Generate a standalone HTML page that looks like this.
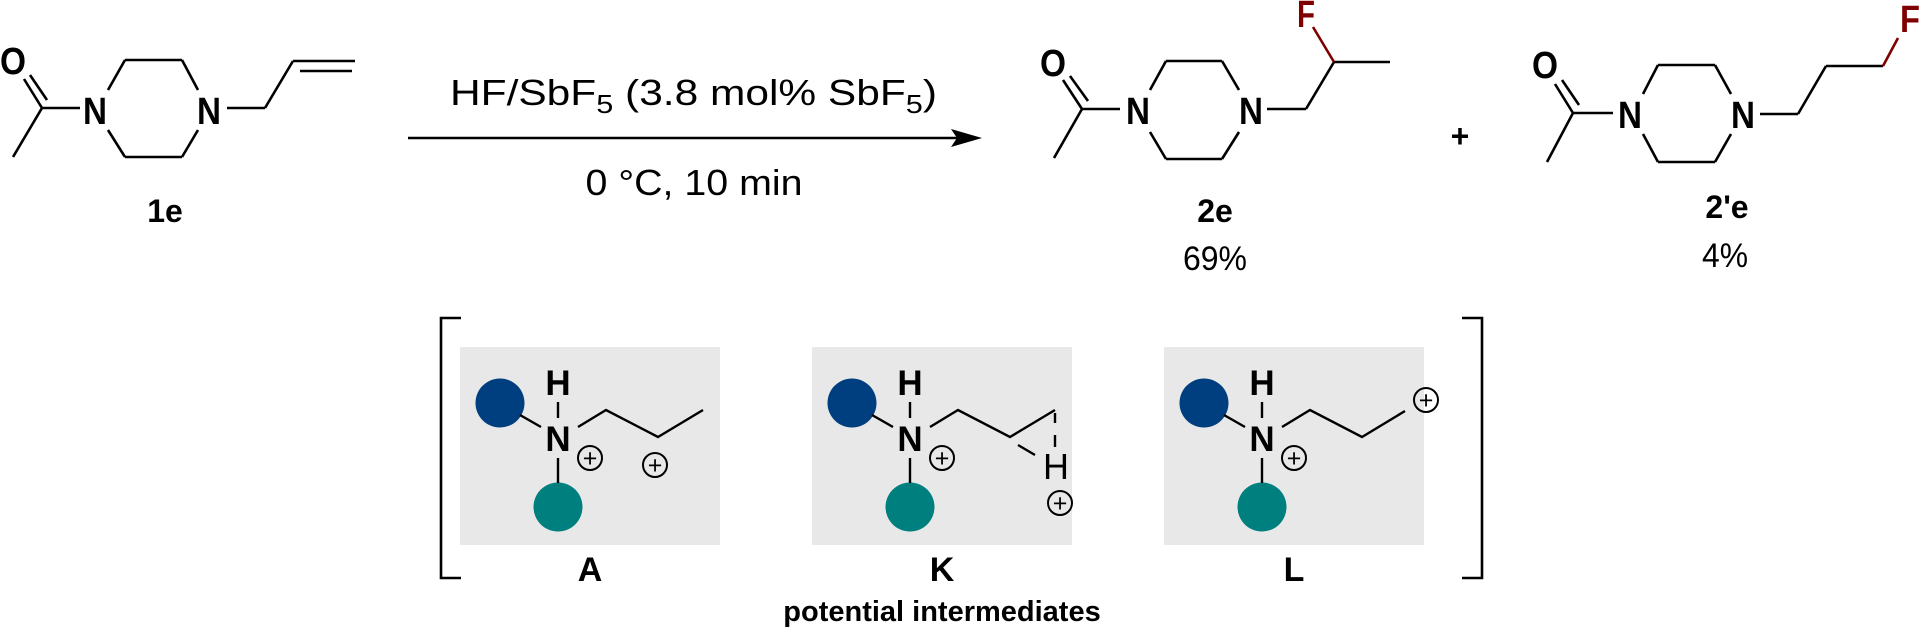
<!DOCTYPE html>
<html><head><meta charset="utf-8"><style>html,body{margin:0;padding:0;background:#fff;}svg{display:block}</style></head>
<body>
<svg width="1920" height="632" viewBox="0 0 1920 632" xmlns="http://www.w3.org/2000/svg" font-family="Liberation Sans, Arial, sans-serif">
<g stroke="#000" stroke-width="2.6" fill="none" stroke-linecap="butt">
<!-- 1e -->
<line x1="42" y1="108" x2="13" y2="157"/>
<line x1="42" y1="108" x2="80" y2="108"/>
<line x1="42" y1="108" x2="24" y2="79"/>
<line x1="47" y1="100" x2="30" y2="75"/>
<line x1="108" y1="90" x2="125" y2="60"/><line x1="125" y1="60" x2="182" y2="60"/><line x1="182" y1="60" x2="198" y2="90"/>
<line x1="108" y1="130" x2="125" y2="157"/><line x1="125" y1="157" x2="182" y2="157"/><line x1="182" y1="157" x2="198" y2="130"/>
<line x1="227" y1="108" x2="265" y2="108"/><line x1="265" y1="108" x2="293" y2="61"/><line x1="293" y1="61" x2="355" y2="61"/>
<line x1="300" y1="71" x2="352" y2="71"/>
<!-- arrow -->
<line x1="408" y1="138" x2="960" y2="138"/>
<!-- 2e -->
<line x1="1082" y1="109" x2="1054" y2="158"/>
<line x1="1082" y1="109" x2="1120" y2="109"/>
<line x1="1082" y1="109" x2="1063" y2="80"/>
<line x1="1088" y1="101" x2="1070" y2="76"/>
<line x1="1150" y1="90" x2="1166" y2="61"/><line x1="1166" y1="61" x2="1222" y2="61"/><line x1="1222" y1="61" x2="1239" y2="90"/>
<line x1="1150" y1="132" x2="1166" y2="159"/><line x1="1166" y1="159" x2="1222" y2="159"/><line x1="1222" y1="159" x2="1239" y2="132"/>
<line x1="1267" y1="109" x2="1306" y2="109"/><line x1="1306" y1="109" x2="1334" y2="62"/><line x1="1334" y1="62" x2="1390" y2="62"/>
<!-- 2'e -->
<line x1="1573" y1="113" x2="1547" y2="162"/>
<line x1="1573" y1="113" x2="1613" y2="113"/>
<line x1="1573" y1="113" x2="1555" y2="84"/>
<line x1="1579" y1="105" x2="1562" y2="80"/>
<line x1="1643" y1="94" x2="1658" y2="65"/><line x1="1658" y1="65" x2="1715" y2="65"/><line x1="1715" y1="65" x2="1731" y2="94"/>
<line x1="1643" y1="134" x2="1658" y2="162"/><line x1="1658" y1="162" x2="1715" y2="162"/><line x1="1715" y1="162" x2="1731" y2="134"/>
<line x1="1760" y1="114" x2="1798" y2="114"/><line x1="1798" y1="114" x2="1826" y2="66"/><line x1="1826" y1="66" x2="1883" y2="66"/>
<!-- brackets -->
<polyline points="461,318 441,318 441,578 461,578"/>
<polyline points="1462,318 1482,318 1482,578 1462,578"/>
</g>
<g stroke="#7f0000" stroke-width="2.6">
<line x1="1334" y1="62" x2="1313" y2="27"/>
<line x1="1883" y1="66" x2="1898" y2="38"/>
</g>
<polygon points="982,138 951,129 957,138 951,147" fill="#000"/>

<g font-weight="bold" font-size="38" text-anchor="middle" fill="#000">
<text x="13" y="74" textLength="26" lengthAdjust="spacingAndGlyphs">O</text>
<text x="95" y="124" textLength="24" lengthAdjust="spacingAndGlyphs">N</text>
<text x="209" y="124" textLength="24" lengthAdjust="spacingAndGlyphs">N</text>
<text x="1053" y="76" textLength="26" lengthAdjust="spacingAndGlyphs">O</text>
<text x="1138" y="124" textLength="24" lengthAdjust="spacingAndGlyphs">N</text>
<text x="1251" y="124" textLength="24" lengthAdjust="spacingAndGlyphs">N</text>
<text x="1545" y="78" textLength="26" lengthAdjust="spacingAndGlyphs">O</text>
<text x="1630" y="128" textLength="24" lengthAdjust="spacingAndGlyphs">N</text>
<text x="1743" y="128" textLength="24" lengthAdjust="spacingAndGlyphs">N</text>
<text x="1306" y="27" fill="#7f0000" textLength="18" lengthAdjust="spacingAndGlyphs">F</text>
<text x="1910" y="32" fill="#7f0000" textLength="20" lengthAdjust="spacingAndGlyphs">F</text>
</g>
<g font-size="32" text-anchor="middle" fill="#000">
<text x="165" y="222" font-weight="bold">1e</text>
<text x="1215" y="222" font-weight="bold">2e</text>
<text x="1215" y="270" font-size="34" textLength="64" lengthAdjust="spacingAndGlyphs">69%</text>
<text x="1727" y="218" font-weight="bold">2'e</text>
<text x="1725" y="267" font-size="34" textLength="46" lengthAdjust="spacingAndGlyphs">4%</text>
<text x="1460" y="147" font-weight="bold">+</text>
<text x="694" y="195" font-size="36" textLength="217" lengthAdjust="spacingAndGlyphs">0 °C, 10 min</text>
</g>
<text x="450" y="105" font-size="36" textLength="487" lengthAdjust="spacingAndGlyphs">HF/SbF<tspan font-size="26" dy="8">5</tspan><tspan dy="-8"> (3.8 mol% SbF</tspan><tspan font-size="26" dy="8">5</tspan><tspan dy="-8">)</tspan></text>

<!-- boxes -->
<rect x="460" y="347" width="260" height="198" fill="#e8e8e8"/>
<rect x="812" y="347" width="260" height="198" fill="#e8e8e8"/>
<rect x="1164" y="347" width="260" height="198" fill="#e8e8e8"/>

<defs>
<g id="core">
<circle cx="852" cy="403" r="24.5" fill="#003f7f"/>
<circle cx="910" cy="507" r="24.5" fill="#007f7f"/>
<g stroke="#000" stroke-width="2.4">
<line x1="910" y1="402" x2="910" y2="418"/>
<line x1="910" y1="458" x2="910" y2="483"/>
<line x1="872" y1="415" x2="893" y2="427"/>
</g>
<text x="910" y="395" font-size="35" font-weight="bold" text-anchor="middle">H</text>
<text x="910" y="451" font-size="35" font-weight="bold" text-anchor="middle">N</text>
<circle cx="942" cy="458" r="12" fill="none" stroke="#000" stroke-width="2"/>
<text x="942" y="466.5" font-size="25" text-anchor="middle">+</text>
</g>
</defs>
<use href="#core" transform="translate(-352,0)"/>
<use href="#core"/>
<use href="#core" transform="translate(352,0)"/>

<g stroke="#000" stroke-width="2.4" fill="none">
<polyline points="578,427 606,410 658,437 703,410"/>
<polyline points="930,427 958,410 1010,437 1055,410"/>
<line x1="1055" y1="413" x2="1055" y2="423"/>
<line x1="1055" y1="435" x2="1055" y2="447"/>
<line x1="1018" y1="445" x2="1035" y2="455"/>
<polyline points="1282,427 1310,410 1362,437 1405,411"/>
<circle cx="655" cy="465" r="12" stroke-width="2"/>
<circle cx="1060" cy="503" r="12" stroke-width="2"/>
<circle cx="1426" cy="400" r="12" stroke-width="2"/>
</g>
<g text-anchor="middle" fill="#000">
<text x="655" y="473.5" font-size="25">+</text>
<text x="1060" y="511.5" font-size="25">+</text>
<text x="1426" y="408.5" font-size="25">+</text>
<text x="1056" y="479" font-size="36">H</text>
<text x="590" y="581" font-size="34" font-weight="bold">A</text>
<text x="942" y="581" font-size="34" font-weight="bold">K</text>
<text x="1294" y="581" font-size="34" font-weight="bold">L</text>
<text x="942" y="621" font-size="29" font-weight="bold">potential intermediates</text>
</g>
</svg>
</body></html>
